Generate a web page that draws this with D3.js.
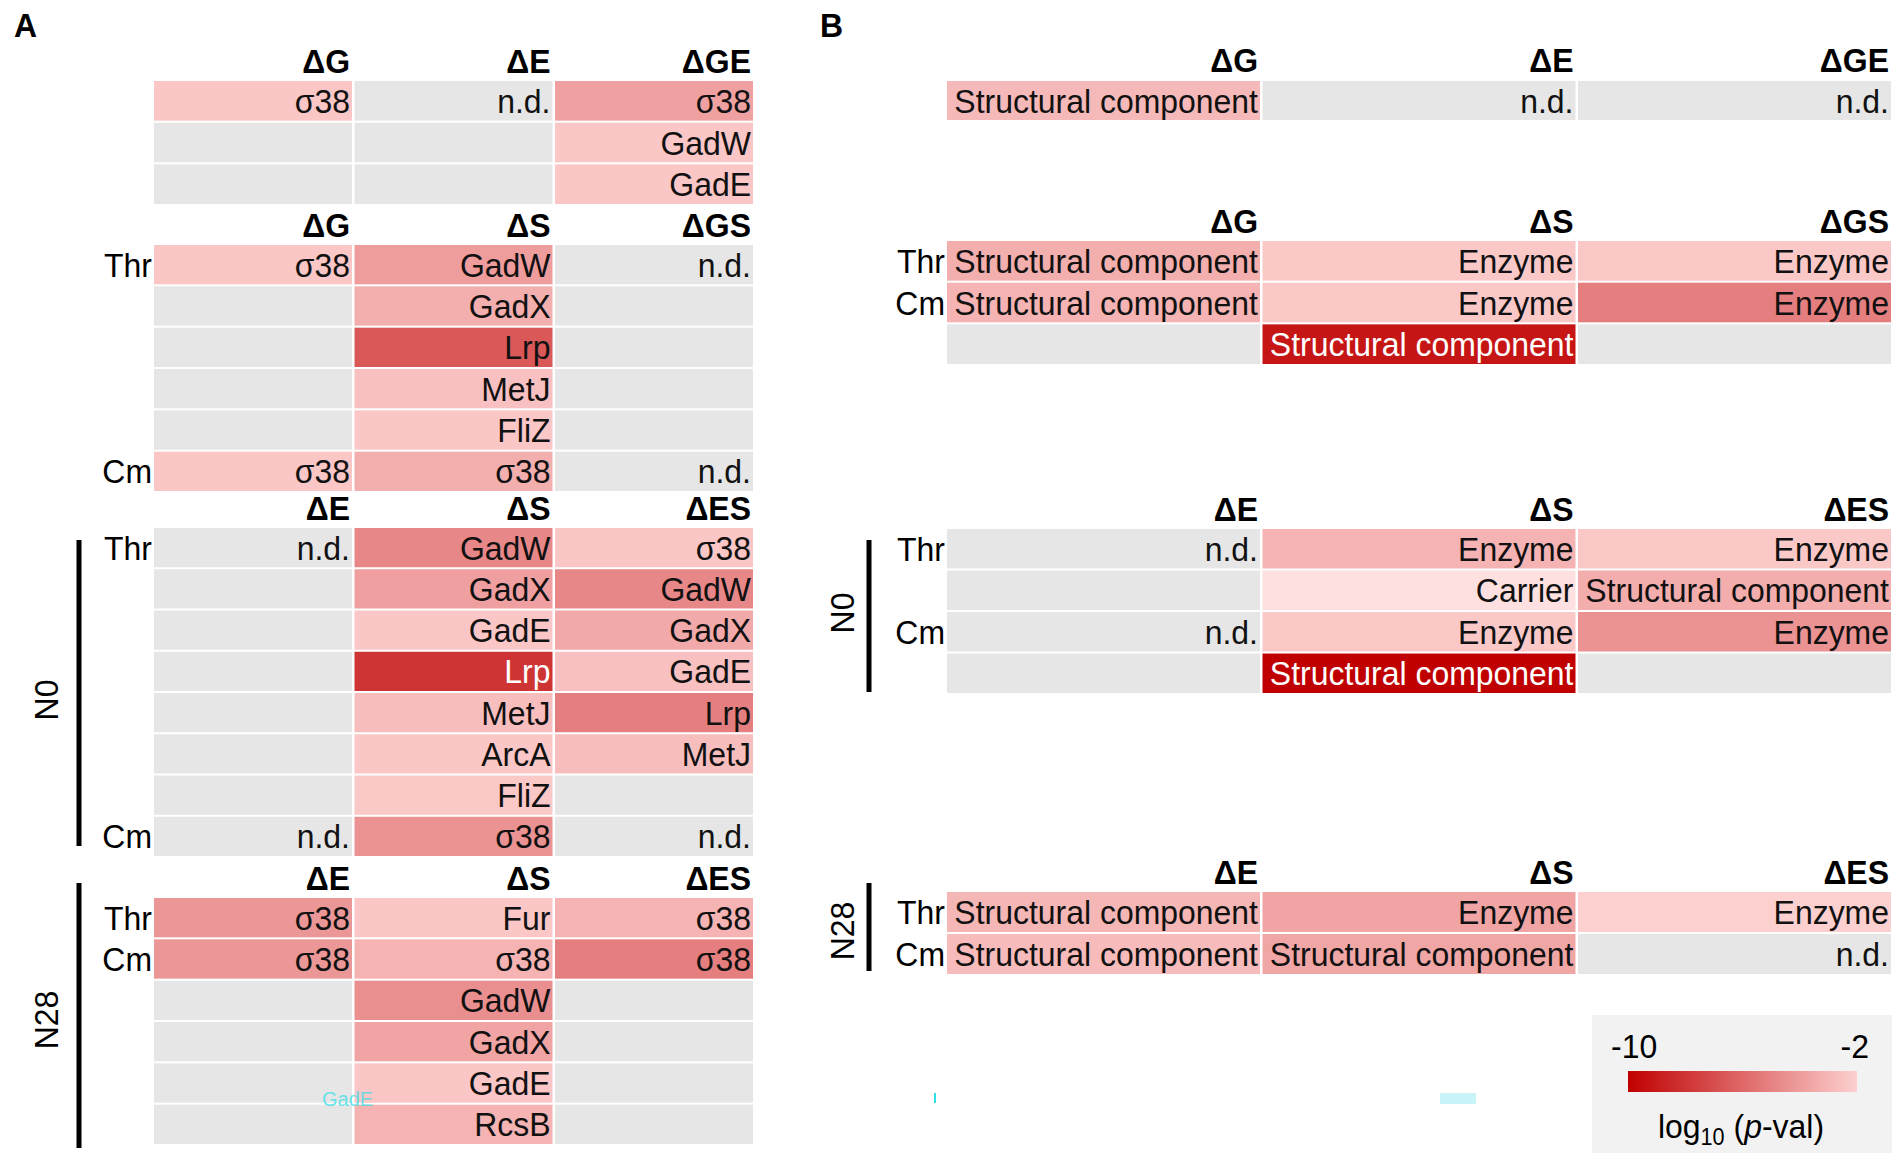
<!DOCTYPE html>
<html>
<head>
<meta charset="utf-8">
<script src="https://cdn.jsdelivr.net/npm/d3@7"></script>
<style>
  body { margin: 0; background: #fff; }
  svg text { font-family: "Liberation Sans", Arial, sans-serif; }
</style>
</head>
<body>
<svg id="chart" width="1904" height="1162"></svg>
<script>
// ---- Panel A: regulators (label per cell, log10 p-value per cell, null = not enriched)
const a1Cols = ["ΔG", "ΔE", "ΔGE"];
const a1Rows = ["", "", ""];
const a1Labels = [["σ38", "", ""], ["n.d.", "", ""], ["σ38", "GadW", "GadE"]];
const a1Vals = [[-2.4, null, null], [null, null, null], [-3.8, -2.4, -2.4]];

const a2Cols = ["ΔG", "ΔS", "ΔGS"];
const a2Rows = ["Thr", "", "", "", "", "Cm"];
const a2Labels = [
  ["σ38", "", "", "", "", "σ38"],
  ["GadW", "GadX", "Lrp", "MetJ", "FliZ", "σ38"],
  ["n.d.", "", "", "", "", "n.d."]
];
const a2Vals = [
  [-2.4, null, null, null, null, -2.4],
  [-4.0, -3.3, -6.6, -2.6, -2.4, -3.3],
  [null, null, null, null, null, null]
];

const a3Cols = ["ΔE", "ΔS", "ΔES"];
const a3Rows = ["Thr", "", "", "", "", "", "", "Cm"];
const a3Labels = [
  ["n.d.", "", "", "", "", "", "", "n.d."],
  ["GadW", "GadX", "GadE", "Lrp", "MetJ", "ArcA", "FliZ", "σ38"],
  ["σ38", "GadW", "GadX", "GadE", "Lrp", "MetJ", "", "n.d."]
];
const a3Vals = [
  [null, null, null, null, null, null, null, null],
  [-4.8, -3.9, -2.4, -8.0, -2.7, -2.4, -2.3, -4.4],
  [-2.4, -4.8, -3.5, -2.6, -5.1, -2.7, null, null]
];

const a4Cols = ["ΔE", "ΔS", "ΔES"];
const a4Rows = ["Thr", "Cm", "", "", "", ""];
const a4Labels = [
  ["σ38", "σ38", "", "", "", ""],
  ["Fur", "σ38", "GadW", "GadX", "GadE", "RcsB"],
  ["σ38", "σ38", "", "", "", ""]
];
const a4Vals = [
  [-4.2, -4.2, null, null, null, null],
  [-2.4, -3.1, -4.5, -3.7, -2.4, -3.1],
  [-3.1, -5.1, null, null, null, null]
];

// ---- Panel B: functional categories
const b1Cols = ["ΔG", "ΔE", "ΔGE"];
const b1Rows = [""];
const b1Labels = [["Structural component"], ["n.d."], ["n.d."]];
const b1Vals = [[-2.9], [null], [null]];

const b2Cols = ["ΔG", "ΔS", "ΔGS"];
const b2Rows = ["Thr", "Cm", ""];
const b2Labels = [
  ["Structural component", "Structural component", ""],
  ["Enzyme", "Enzyme", "Structural component"],
  ["Enzyme", "Enzyme", ""]
];
const b2Vals = [[-3.3, -3.1, null], [-2.3, -2.3, -9.2], [-2.3, -5.1, null]];

const b3Cols = ["ΔE", "ΔS", "ΔES"];
const b3Rows = ["Thr", "", "Cm", ""];
const b3Labels = [
  ["n.d.", "", "n.d.", ""],
  ["Enzyme", "Carrier", "Enzyme", "Structural component"],
  ["Enzyme", "Structural component", "Enzyme", ""]
];
const b3Vals = [[null, null, null, null], [-3.1, -1.4, -2.3, -10], [-2.3, -3.35, -4.4, null]];

const b4Cols = ["ΔE", "ΔS", "ΔES"];
const b4Rows = ["Thr", "Cm"];
const b4Labels = [
  ["Structural component", "Structural component"],
  ["Enzyme", "Structural component"],
  ["Enzyme", "n.d."]
];
const b4Vals = [[-3.0, -2.8], [-3.7, -3.6], [-2.0, null]];

const legendTicks = [-10, -2];

// ---- layout
const svg = d3.select("#chart");
const FS = 34;
const SX = 0.94;          // text in the figure is slightly condensed
const rowStep = 41;
const grey = "#e6e6e6";

const color = d3.scaleLinear().domain([-10, -2]).range(["#c00000", "#fdd0d0"]);

function txt(parent, x, y) {
  return parent.append("text").attr("transform", `translate(${x},${y}) scale(${SX},1)`)
    .attr("font-size", FS);
}

function drawBlock(cols, rows, labels, vals, x0, x1, top) {
  const n = rows.length;
  const x = d3.scaleBand().domain(d3.range(cols.length)).range([x0, x1])
    .paddingInner(2.5 / ((x1 - x0) / cols.length));
  const y = d3.scaleBand().domain(d3.range(n)).range([top, top + n * rowStep])
    .paddingInner(2 / rowStep);
  const g = svg.append("g");

  cols.forEach((c, ci) => {
    txt(g, x(ci) + x.bandwidth() - 2, top - 8)
      .attr("text-anchor", "end").attr("font-weight", "bold").text(c);
    d3.range(n).forEach(ri => {
      const v = vals[ci][ri];
      g.append("rect")
        .attr("x", x(ci)).attr("y", y(ri))
        .attr("width", x.bandwidth()).attr("height", y.bandwidth())
        .attr("fill", v == null ? grey : color(v));
      const lab = labels[ci][ri];
      if (lab) {
        txt(g, x(ci) + x.bandwidth() - 2, y(ri) + y.bandwidth() / 2 + 12)
          .attr("text-anchor", "end")
          .attr("fill", v != null && v < -7.5 ? "#fff" : "#111")
          .text(lab);
      }
    });
  });

  rows.forEach((r, ri) => {
    if (!r) return;
    txt(g, x0 - 2, y(ri) + y.bandwidth() / 2 + 12).attr("text-anchor", "end").text(r);
  });
}

drawBlock(a1Cols, a1Rows, a1Labels, a1Vals, 154, 753, 81);
drawBlock(a2Cols, a2Rows, a2Labels, a2Vals, 154, 753, 245);
drawBlock(a3Cols, a3Rows, a3Labels, a3Vals, 154, 753, 528);
drawBlock(a4Cols, a4Rows, a4Labels, a4Vals, 154, 753, 898);

drawBlock(b1Cols, b1Rows, b1Labels, b1Vals, 947, 1891, 80);
drawBlock(b2Cols, b2Rows, b2Labels, b2Vals, 947, 1891, 241);
drawBlock(b3Cols, b3Rows, b3Labels, b3Vals, 947, 1891, 529);
drawBlock(b4Cols, b4Rows, b4Labels, b4Vals, 947, 1891, 892);

// panel letters
txt(svg, 14, 37).attr("font-weight", "bold").text("A");
txt(svg, 820, 37).attr("font-weight", "bold").text("B");

// group brackets (N0 / N28)
const groups = [
  { label: "N0", lx: 79, y0: 540, y1: 846, tx: 46, ty: 700 },
  { label: "N28", lx: 79, y0: 883, y1: 1148, tx: 46, ty: 1020 },
  { label: "N0", lx: 869, y0: 540, y1: 692, tx: 842, ty: 613 },
  { label: "N28", lx: 869, y0: 883, y1: 971, tx: 842, ty: 931 }
];
groups.forEach(d => {
  svg.append("line").attr("x1", d.lx).attr("x2", d.lx).attr("y1", d.y0).attr("y2", d.y1)
    .attr("stroke", "#000").attr("stroke-width", 5);
  svg.append("text")
    .attr("transform", `translate(${d.tx + 11.5},${d.ty}) rotate(-90) scale(${SX},1)`)
    .attr("text-anchor", "middle").attr("font-size", FS).text(d.label);
});

// colour legend
const lg = svg.append("g");
lg.append("rect").attr("x", 1592).attr("y", 1015).attr("width", 300).attr("height", 138).attr("fill", "#f2f2f2");
const lx = d3.scaleLinear().domain(d3.extent(legendTicks)).range([1628, 1857]);
const grad = svg.append("defs").append("linearGradient").attr("id", "lgrad");
d3.range(0, 1.0001, 0.1).forEach(t => {
  const v = lx.invert(lx.range()[0] + t * (lx.range()[1] - lx.range()[0]));
  grad.append("stop").attr("offset", t).attr("stop-color", color(v));
});
lg.append("rect").attr("x", lx(-10)).attr("y", 1071).attr("width", lx(-2) - lx(-10)).attr("height", 21)
  .attr("fill", "url(#lgrad)");
txt(lg, 1611, 1058).text(legendTicks[0]);
txt(lg, 1869, 1058).attr("text-anchor", "end").text(legendTicks[1]);
const lt = txt(lg, 1741, 1138).attr("text-anchor", "middle");
lt.append("tspan").text("log");
lt.append("tspan").attr("font-size", 23).attr("dy", 7).text("10");
lt.append("tspan").attr("dy", -7).text(" (");
lt.append("tspan").attr("font-style", "italic").text("p");
lt.append("tspan").text("-val)");

// faint scanning artefacts present in the original image
svg.append("text").attr("x", 322).attr("y", 1106).attr("font-size", 20).attr("fill", "#30e0e8")
  .attr("opacity", 0.7).text("GadE");
svg.append("rect").attr("x", 934).attr("y", 1093).attr("width", 2).attr("height", 10).attr("fill", "#30e0e8");
svg.append("rect").attr("x", 1440).attr("y", 1093).attr("width", 36).attr("height", 11).attr("fill", "#c8f4f8");
</script>
</body>
</html>
